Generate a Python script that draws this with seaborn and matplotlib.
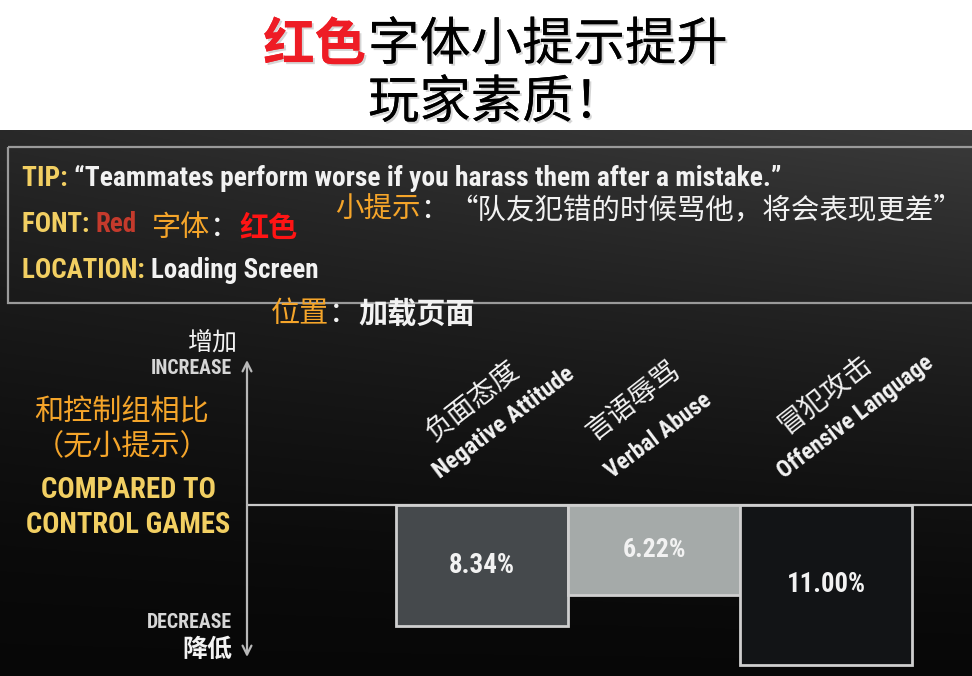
import numpy as np
import seaborn as sns
import matplotlib.pyplot as plt
import matplotlib.patheffects as pe
from matplotlib import font_manager as fm
from matplotlib.patches import Rectangle

# 数据：相对对照组的下降幅度（%）
categories_en = ['Negative Attitude', 'Verbal Abuse', 'Offensive Language']
categories_zh = ['负面态度', '言语辱骂', '冒犯攻击']
decrease_pct = [8.34, 6.22, 11.00]
value_labels = ['8.34%', '6.22%', '11.00%']
bar_colors = ['#45494c', '#a5aaa9', '#121416']

W, H = 972, 676
DARK_TOP = 130
BASE_Y = 505
PX_PER_UNIT = 14.5
BAR_PX = 172
FIRST_BAR_X = 482

YELLOW = '#f2cf62'
ORANGE = '#f5a52a'
WHITE = '#f2f2f2'
LIGHT = '#d6d6d6'

CJK = ['Noto Sans CJK SC', 'DejaVu Sans']

# 找一个窄体字体给英文用，没有就退回普通字体
ttf = fm.fontManager.ttflist
NARROW_STRETCH = 'normal'
if any(f.name == 'Liberation Sans Narrow' for f in ttf):
    NARROW = ['Liberation Sans Narrow', 'DejaVu Sans']
elif any(f.name == 'Roboto Condensed' for f in ttf):
    NARROW = ['Roboto Condensed', 'DejaVu Sans']
elif any(f.name == 'DejaVu Sans' and str(f.stretch) == 'condensed' for f in ttf):
    NARROW = ['DejaVu Sans']
    NARROW_STRETCH = 'condensed'
else:
    NARROW = ['Roboto', 'DejaVu Sans']
EN = dict(family=NARROW, fontstretch=NARROW_STRETCH, fontweight='bold')

sns.set_theme(style='white')
plt.rcParams['font.family'] = CJK

fig = plt.figure(figsize=(W / 100, H / 100), dpi=100, facecolor='white')
renderer = fig.canvas.get_renderer()


def fit_size(s, width, **kw):
    # 按目标像素宽度换算字号
    tmp = fig.text(0, 0, s, fontsize=20, **kw)
    w = tmp.get_window_extent(renderer).width
    tmp.remove()
    return 20 * width / w


# 深色背景渐变
bg = fig.add_axes([0, 0, 1, (H - DARK_TOP) / H], zorder=0)
t = np.linspace(0, 1, 300)[:, None]
s = np.linspace(0, 1, 400)[None, :]
lum = 0.03 + 0.13 * (1 - t) ** 1.6 + 0.07 * s * (1 - t) ** 1.2
bg.imshow(np.dstack([lum, lum, lum]), aspect='auto', extent=[0, 1, 0, 1])
bg.set_axis_off()

# 柱状图区域
ax = fig.add_axes([247 / W, 0, 1 - 247 / W, (H - DARK_TOP) / H], zorder=1)
ax.patch.set_alpha(0)
sns.barplot(
    x=categories_en,
    y=[-v for v in decrease_pct],
    hue=categories_en,
    palette=bar_colors,
    legend=False,
    width=1.0,
    edgecolor='#cfcfcf',
    linewidth=2,
    saturation=1,
    ax=ax,
)
ax.set_xlim(-(FIRST_BAR_X - 247) / BAR_PX, 2 + (W - (FIRST_BAR_X + 2 * BAR_PX)) / BAR_PX)
ax.set_ylim(-(H - BASE_Y) / PX_PER_UNIT, (BASE_Y - DARK_TOP) / PX_PER_UNIT)
ax.set_axis_off()
ax.axhline(0, color='#c8c8c8', lw=1.6, zorder=0)

label_len = [170, 126, 188]
value_w = [66, 64, 79]
zh_offset = [(-44, 58), (-55, 58), (-36, 65)]
for i, (zh, en, v, lab) in enumerate(zip(categories_zh, categories_en, decrease_pct, value_labels)):
    ax.text(i, -v / 2, lab, ha='center', va='center', color=WHITE,
            fontsize=fit_size(lab, value_w[i], **EN), **EN)
    ax.annotate(en, xy=(i, 0), xytext=(-39, 22), textcoords='offset pixels',
                ha='left', va='bottom', rotation=37, rotation_mode='anchor',
                color=WHITE, fontsize=min(fit_size(en, label_len[i], **EN), 17.5), **EN)
    ax.annotate(zh, xy=(i, 0), xytext=zh_offset[i], textcoords='offset pixels',
                ha='left', va='bottom', rotation=38, rotation_mode='anchor',
                color=WHITE, fontsize=20, fontweight='light', family=CJK)

# 上下双向箭头
ax.annotate('', xy=(0, (BASE_Y - 360) / PX_PER_UNIT), xytext=(0, -(657 - BASE_Y) / PX_PER_UNIT),
            xycoords=('axes fraction', 'data'), annotation_clip=False,
            arrowprops=dict(arrowstyle='<->', color='#b8b8b8', lw=1.6,
                            mutation_scale=16, shrinkA=0, shrinkB=0))

# 文字层（像素坐标）
ov = fig.add_axes([0, 0, 1, 1], zorder=2)
ov.set_xlim(0, W)
ov.set_ylim(H, 0)
ov.set_axis_off()
ov.patch.set_alpha(0)


def run(x, y, parts, width=None, **kw):
    # 一行里多种颜色的文字依次排开；给了 width 就缩放到该宽度
    if width is not None:
        total = 0
        for txt, color, extra in parts:
            opts = dict(kw)
            opts.update(extra)
            opts['fontsize'] = 20
            tmp = fig.text(0, 0, txt, **opts)
            total += tmp.get_window_extent(renderer).width
            tmp.remove()
        kw['fontsize'] = 20 * width / total
    for txt, color, extra in parts:
        opts = dict(kw)
        opts.update(extra)
        tx = ov.text(x, y, txt, color=color, ha='left', va='center', **opts)
        x += tx.get_window_extent(renderer).width
    return x


shadow = [pe.withSimplePatchShadow(offset=(1.5, -1.5), shadow_rgbFace='#888888', alpha=0.35), pe.Normal()]
ov.text(366, 45, '红色', ha='right', va='center', color='#ee1c25', fontsize=37,
        fontweight='bold', family=CJK, path_effects=shadow)
ov.text(368, 45, '字体小提示提升', ha='left', va='center', color='black', fontsize=37,
        family=CJK, path_effects=shadow)
ov.text(368, 103, '玩家素质！', ha='left', va='center', color='black', fontsize=37,
        family=CJK, path_effects=shadow)

# 提示框
ov.add_patch(Rectangle((8, 147), 1000, 156, fill=False, edgecolor='#9a9a9a', lw=1.6, clip_on=False))

run(22, 178, [('TIP: ', YELLOW, {}),
              ('\u201cTeammates perform worse if you harass them after a mistake.\u201d', WHITE, {})],
    width=756, **EN)
run(22, 225, [('FONT: ', YELLOW, {}), ('Red', '#c43a2c', {})], width=115, **EN)
run(22, 271, [('LOCATION: ', YELLOW, {}), ('Loading Screen', WHITE, {})], width=296, **EN)

run(152, 228, [('字体', ORANGE, {}), ('：', WHITE, {}), ('红色', '#ff1414', {'fontweight': 'bold'})],
    fontsize=21, family=CJK)
run(335, 210, [('小提示', ORANGE, {}), ('：', WHITE, {}),
               ('\u201c队友犯错的时候骂他，将会表现更差\u201d', WHITE, {})],
    fontsize=20.5, family=CJK)
run(271, 314, [('位置', ORANGE, {}), ('：', WHITE, {}), ('加载页面', WHITE, {'fontweight': 'bold'})],
    fontsize=21, family=CJK)

# 左侧说明
ov.text(238, 343, '增加', ha='right', va='center', color=WHITE, fontsize=18, family=CJK)
ov.text(232, 369, 'INCREASE', ha='right', va='center', color=LIGHT,
        fontsize=fit_size('INCREASE', 81, **EN), **EN)
ov.text(122, 412, '和控制组相比', ha='center', va='center', color=ORANGE, fontsize=21, family=CJK)
ov.text(122, 447, '（无小提示）', ha='center', va='center', color=ORANGE, fontsize=21, family=CJK)
ov.text(128, 490, 'COMPARED TO', ha='center', va='center', color=YELLOW,
        fontsize=fit_size('COMPARED TO', 175, **EN), **EN)
ov.text(128, 525, 'CONTROL GAMES', ha='center', va='center', color=YELLOW,
        fontsize=fit_size('CONTROL GAMES', 205, **EN), **EN)
ov.text(232, 622, 'DECREASE', ha='right', va='center', color=LIGHT,
        fontsize=fit_size('DECREASE', 85, **EN), **EN)
ov.text(232, 650, '降低', ha='right', va='center', color=WHITE, fontsize=18,
        fontweight='bold', family=CJK)

fig.savefig('out.png', dpi=100, facecolor='white')
